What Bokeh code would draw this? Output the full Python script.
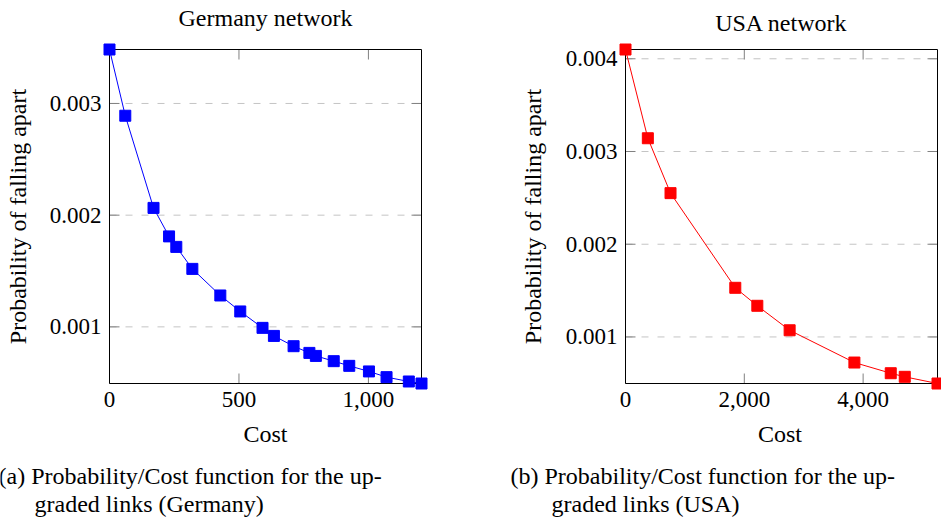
from bokeh.plotting import figure
from bokeh.layouts import row, column
from bokeh.models import Range1d, FixedTicker, NumeralTickFormatter, Label
from bokeh.embed import file_html
from bokeh.resources import INLINE

# ---- data ----
de_cost = [0, 61, 170, 230, 258, 320, 428, 505, 591, 635, 711, 772, 797, 866, 926, 1002, 1070, 1156, 1205]
de_prob = [0.003483, 0.00289, 0.002065, 0.00181, 0.001716, 0.001519, 0.001281, 0.001138, 0.000991,
           0.000919, 0.000827, 0.000767, 0.00074, 0.000693, 0.000651, 0.000601, 0.00055, 0.000511, 0.000493]
us_cost = [0, 376, 758, 1848, 2219, 2763, 3853, 4465, 4701, 5252]
us_prob = [0.0041, 0.003143, 0.002551, 0.00153, 0.001336, 0.001072, 0.000724, 0.000609, 0.00057, 0.000498]

de_xticks = [0, 500, 1000]
de_yticks = [0.001, 0.002, 0.003]
us_xticks = [0, 2000, 4000]
us_yticks = [0.001, 0.002, 0.003, 0.004]

titles = ["Germany network", "USA network"]
captions = [("(a) Probability/Cost function for the up-", "graded links (Germany)"),
            ("(b) Probability/Cost function for the up-", "graded links (USA)")]
ylabel = "Probability of falling apart"
xlabel = "Cost"

FONT = "Liberation Serif"
TICK_FS = "23px"
LAB_FS = "24px"
W = 941
TOP_H = 40          # strip holding the two plot titles
BOT_H = 63          # strip holding the two sub-captions
PLOT_H = 521 - TOP_H - BOT_H
TICK_LEN = 10


def make(xs, ys, xt, yt, color, width, bl, br, bt, bb, pads, ylab_standoff):
    pl, pr, pt, pb = pads
    fw = width - bl - br
    fh = PLOT_H - bt - bb
    sx = (max(xs) - min(xs)) / (fw - pl - pr)
    sy = (max(ys) - min(ys)) / (fh - pt - pb)
    p = figure(width=width, height=PLOT_H, output_backend="svg", toolbar_location=None, title=None,
               x_range=Range1d(min(xs) - pl * sx, max(xs) + pr * sx),
               y_range=Range1d(min(ys) - pb * sy, max(ys) + pt * sy),
               min_border_left=bl, min_border_right=br, min_border_top=bt, min_border_bottom=bb)
    p.outline_line_color = None
    p.background_fill_color = "white"
    p.border_fill_color = "white"
    p.xgrid.visible = False
    p.ygrid.visible = False

    x0, x1, y0, y1 = min(xs), max(xs), min(ys), max(ys)
    n = len(yt)
    m = len(xt)
    # dashed horizontal grid lines at the y ticks
    p.segment(x0=[x0] * n, x1=[x1] * n, y0=yt, y1=yt,
              line_color="#c4c4c4", line_dash="7 9", line_width=1, level="underlay")
    # inward tick marks on all four sides
    tick_kw = dict(line_color="#808080", line_width=1, level="underlay")
    p.segment(x0=xt, x1=xt, y0=[y0] * m, y1=[y0 + TICK_LEN * sy] * m, **tick_kw)
    p.segment(x0=xt, x1=xt, y0=[y1] * m, y1=[y1 - TICK_LEN * sy] * m, **tick_kw)
    p.segment(x0=[x0] * n, x1=[x0 + TICK_LEN * sx] * n, y0=yt, y1=yt, **tick_kw)
    p.segment(x0=[x1] * n, x1=[x1 - TICK_LEN * sx] * n, y0=yt, y1=yt, **tick_kw)
    # axis box at the data extent
    p.quad(left=[x0], right=[x1], bottom=[y0], top=[y1], fill_color=None,
           line_color="black", line_width=1, level="underlay")

    p.xaxis.ticker = FixedTicker(ticks=xt)
    p.yaxis.ticker = FixedTicker(ticks=yt)
    p.xaxis.formatter = NumeralTickFormatter(format="0,0")
    p.yaxis.formatter = NumeralTickFormatter(format="0.000")
    for ax in (p.xaxis[0], p.yaxis[0]):
        ax.axis_line_color = None
        ax.major_tick_line_color = None
        ax.minor_tick_line_color = None
        ax.major_tick_in = 0
        ax.major_tick_out = 0
        ax.major_label_text_font = FONT
        ax.major_label_text_font_size = TICK_FS
        ax.major_label_text_color = "black"
        ax.axis_label_text_font = FONT
        ax.axis_label_text_font_size = LAB_FS
        ax.axis_label_text_font_style = "normal"
        ax.axis_label_text_color = "black"
    p.xaxis.axis_label = xlabel
    p.yaxis.axis_label = ylabel
    p.xaxis.major_label_standoff = 1
    p.xaxis.axis_label_standoff = 11
    p.yaxis.major_label_standoff = 1
    p.yaxis.axis_label_standoff = ylab_standoff

    p.line(xs, ys, line_color=color, line_width=1)
    p.scatter(xs, ys, marker="square", size=11, fill_color=color, line_color=color)
    return p


def strip(h, items):
    """A text-only strip; items are (text, canvas x, canvas y within strip, align)."""
    s = figure(width=W, height=h, output_backend="svg", toolbar_location=None, title=None,
               x_axis_location=None, y_axis_location=None, min_border=0,
               x_range=Range1d(0, 1), y_range=Range1d(0, 1))
    s.outline_line_color = None
    s.background_fill_color = "white"
    s.border_fill_color = "white"
    s.xgrid.visible = False
    s.ygrid.visible = False
    for text, X, Y, align in items:
        s.add_layout(Label(x=X, y=h - Y, x_units="screen", y_units="screen", text=text,
                           text_align=align, text_baseline="middle", text_font=FONT,
                           text_font_size=LAB_FS, text_color="black"))
    return s


p1 = make(de_cost, de_prob, de_xticks, de_yticks, "#0000ff", 470, 102, 42, 2, 68, (7, 7, 7, 7), 16)
p2 = make(us_cost, us_prob, us_xticks, us_yticks, "#ff0000", 471, 148, 0, 2, 68, (7, 4, 7, 7), 17)

top = strip(TOP_H, [(titles[0], 265, 17, "center"), (titles[1], 781, 22, "center")])
bottom = strip(BOT_H, [(captions[0][0], -2, 475 - (521 - BOT_H), "left"),
                       (captions[0][1], 34, 503 - (521 - BOT_H), "left"),
                       (captions[1][0], 510, 475 - (521 - BOT_H), "left"),
                       (captions[1][1], 551, 503 - (521 - BOT_H), "left")])

page = column(top, row(p1, p2), bottom)
open("out.html", "w").write(file_html(page, INLINE))
